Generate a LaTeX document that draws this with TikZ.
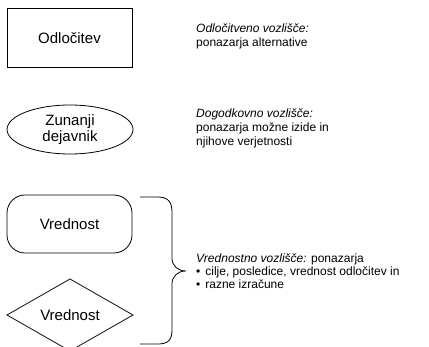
\documentclass[tikz,border=0pt]{standalone}
\usepackage{fontspec}
\setmainfont{Liberation Sans}
\usetikzlibrary{shapes.geometric}
\begin{document}
\begin{tikzpicture}[x=1pt,y=-1pt,
  shapeline/.style={draw=black,line width=0.8pt},
  lbl/.style={font=\fontsize{15}{16}\selectfont,align=center,inner sep=0pt},
  desc/.style={font=\fontsize{12}{14}\selectfont,anchor=base west,inner sep=0pt}]
\useasboundingbox (0,0) rectangle (429,347);
\clip (0,0) rectangle (429,347);
% decision node
\draw[shapeline] (7,8) rectangle (132,67);
\node[lbl] (odl) at (69.5,38) {Odločitev};
% chance node
\draw[shapeline] (70,129.5) ellipse [x radius=63, y radius=24.5];
\node[lbl] (zun) at (70,129.5) {Zunanji\\dejavnik};
% value node (rounded)
\draw[shapeline,rounded corners=18pt] (7,195) rectangle (132,253);
\node[lbl] (vr1) at (69.5,224) {Vrednost};
% value node (diamond)
\draw[shapeline] (7,315) -- (70,279) -- (133,315) -- (70,351) -- cycle;
\node[lbl] (vr2) at (70,315) {Vrednost};
% brace
\coordinate (bt) at (140,197);
\coordinate (bb) at (140,344);
\coordinate (tip) at (186,271);
\draw[shapeline] (bt) -- (158,197) .. controls (168,197) and (172,202) .. (172,212)
  -- (172,258) .. controls (172,266) and (178,271) .. (tip)
  .. controls (178,271) and (172,276) .. (172,284)
  -- (172,330) .. controls (172,340) and (168,344) .. (158,344) -- (bb);
% descriptions
\node[desc] (d1a) at (196,33) {\itshape Odločitveno vozlišče:};
\node[desc] (d1b) at (196,47) {ponazarja alternative};
\node[desc] (d2a) at (196,118) {\itshape Dogodkovno vozlišče:};
\node[desc] (d2b) at (196,132) {ponazarja možne izide in};
\node[desc] (d2c) at (196,146) {njihove verjetnosti};
\node[desc] (d3a) at (196,263) {\textit{Vrednostno vozlišče:} ponazarja};
\node[desc] (d3b) at (196,276) {•\hspace{5pt}cilje, posledice, vrednost odločitev in};
\node[desc] (d3c) at (196,289) {•\hspace{5pt}razne izračune};
\end{tikzpicture}
\end{document}
